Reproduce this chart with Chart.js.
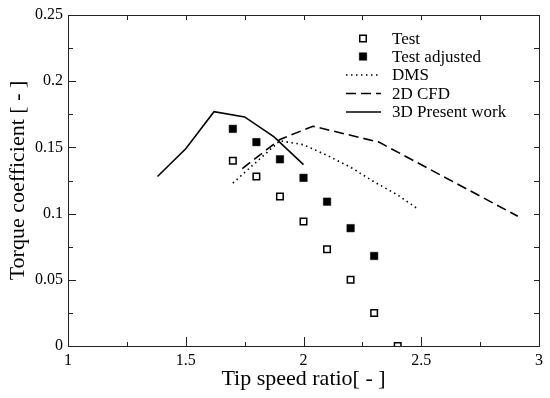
<!DOCTYPE html>
<html>
<head>
<meta charset="utf-8">
<script src="https://cdn.jsdelivr.net/npm/chart.js@4/dist/chart.umd.min.js"></script>
<style>
  html, body { margin: 0; padding: 0; background: #fff; }
  #wrap { width: 550px; height: 398px; }
</style>
</head>
<body>
<div id="wrap"><canvas id="torqueChart"></canvas></div>
<script>
/* global Chart */

// data
const testX = [1.7, 1.8, 1.9, 2.0, 2.1, 2.2, 2.3, 2.4];
const testY = [0.140, 0.128, 0.113, 0.094, 0.073, 0.050, 0.025, 0.000];

const adjustedX = [1.7, 1.8, 1.9, 2.0, 2.1, 2.2, 2.3];
const adjustedY = [0.164, 0.154, 0.141, 0.127, 0.109, 0.089, 0.068];

const dmsX = [1.7, 1.9, 2.0, 2.1, 2.2, 2.3, 2.4, 2.49];
const dmsY = [0.123, 0.155, 0.152, 0.144, 0.135, 0.124, 0.114, 0.103];

const cfdX = [1.74, 1.9, 2.04, 2.32, 2.91];
const cfdY = [0.134, 0.156, 0.166, 0.154, 0.098];

const presentX = [1.38, 1.5, 1.62, 1.75, 1.875, 2.0];
const presentY = [0.128, 0.149, 0.177, 0.173, 0.158, 0.137];

const seriesLabels = ['Test', 'Test adjusted', 'DMS', '2D CFD', '3D Present work'];
const xTitle = 'Tip speed ratio[ - ]';
const yTitle = 'Torque coefficient [ - ]';

function toPoints(xs, ys) {
  return xs.map((x, i) => ({ x, y: ys[i] }));
}

function isMultiple(v, step) {
  return Math.abs(v / step - Math.round(v / step)) < 1e-6;
}

const serif = 'Liberation Serif, Times New Roman, serif';

// box around the plot with ticks pointing inwards
const framePlugin = {
  id: 'frame',
  afterDraw(chart) {
    const { ctx, chartArea: a, scales } = chart;
    ctx.save();
    ctx.strokeStyle = '#222';
    ctx.lineWidth = 1;
    ctx.beginPath();
    scales.x.ticks.forEach((t) => {
      const px = Math.round(scales.x.getPixelForValue(t.value)) + 0.5;
      const len = isMultiple(t.value, 0.5) ? 9 : 4;
      ctx.moveTo(px, a.bottom);
      ctx.lineTo(px, a.bottom - len);
      ctx.moveTo(px, a.top);
      ctx.lineTo(px, a.top + 5);
    });
    scales.y.ticks.forEach((t) => {
      const py = Math.round(scales.y.getPixelForValue(t.value)) + 0.5;
      const len = isMultiple(t.value, 0.05) ? 8 : 5;
      ctx.moveTo(a.left, py);
      ctx.lineTo(a.left + len, py);
      ctx.moveTo(a.right, py);
      ctx.lineTo(a.right - 5, py);
    });
    ctx.stroke();
    ctx.strokeRect(Math.round(a.left) + 0.5, Math.round(a.top) + 0.5,
      Math.round(a.right - a.left), Math.round(a.bottom - a.top));
    ctx.restore();
  },
};

// legend in the upper right corner
const legendPlugin = {
  id: 'cornerLegend',
  afterDraw(chart) {
    const { ctx } = chart;
    const rowY = [38.5, 56.5, 75, 93.5, 112];
    ctx.save();
    ctx.font = `17px ${serif}`;
    ctx.textBaseline = 'middle';
    ctx.fillStyle = '#000';
    chart.data.datasets.forEach((ds, i) => {
      const y = rowY[i];
      if (ds.showLine === false) {
        const s = ds.pointStyleSide;
        ctx.lineWidth = ds.pointBorderWidth;
        ctx.strokeStyle = '#000';
        ctx.fillStyle = ds.pointBackgroundColor;
        ctx.beginPath();
        ctx.rect(363 - s / 2, y - s / 2, s, s);
        ctx.fill();
        ctx.stroke();
      } else {
        ctx.lineWidth = ds.borderWidth;
        ctx.strokeStyle = ds.borderColor;
        ctx.setLineDash(ds.borderDash || []);
        ctx.beginPath();
        ctx.moveTo(346, y);
        ctx.lineTo(381, y);
        ctx.stroke();
        ctx.setLineDash([]);
      }
      ctx.fillStyle = '#000';
      ctx.fillText(ds.label, 392, y + 1);
    });
    ctx.restore();
  },
};

const ctx = document.getElementById('torqueChart');
const torqueChart = new Chart(ctx, {
  type: 'scatter',
  data: {
    datasets: [
      {
        label: seriesLabels[0],
        data: toPoints(testX, testY),
        showLine: false,
        pointStyle: 'rect',
        pointRadius: 4.6,
        pointStyleSide: 6.5,
        pointBorderWidth: 1.5,
        pointBorderColor: '#000',
        pointBackgroundColor: '#fff',
        order: 0,
      },
      {
        label: seriesLabels[1],
        data: toPoints(adjustedX, adjustedY),
        showLine: false,
        pointStyle: 'rect',
        pointRadius: 5.3,
        pointStyleSide: 7.5,
        pointBorderWidth: 0.5,
        pointBorderColor: '#000',
        pointBackgroundColor: '#000',
        order: 1,
      },
      {
        label: seriesLabels[2],
        data: toPoints(dmsX, dmsY),
        showLine: true,
        borderColor: '#000',
        borderWidth: 1.6,
        borderDash: [1.5, 3.5],
        pointRadius: 0,
        order: 2,
      },
      {
        label: seriesLabels[3],
        data: toPoints(cfdX, cfdY),
        showLine: true,
        borderColor: '#000',
        borderWidth: 1.6,
        borderDash: [10, 5],
        pointRadius: 0,
        order: 3,
      },
      {
        label: seriesLabels[4],
        data: toPoints(presentX, presentY),
        showLine: true,
        borderColor: '#000',
        borderWidth: 1.6,
        pointRadius: 0,
        order: 4,
      },
    ],
  },
  options: {
    responsive: true,
    maintainAspectRatio: false,
    animation: false,
    events: [],
    layout: {
      padding: { left: 0, right: 11, top: 15, bottom: 0 },
    },
    plugins: {
      legend: { display: false },
      tooltip: { enabled: false },
    },
    elements: { line: { tension: 0 } },
    scales: {
      x: {
        type: 'linear',
        min: 1,
        max: 3,
        afterFit(scale) {
          scale.height = 52;
        },
        grid: { display: false, drawTicks: false },
        border: { display: false },
        ticks: {
          stepSize: 0.25,
          autoSkip: false,
          maxRotation: 0,
          padding: 5,
          color: '#000',
          font: { family: serif, size: 16 },
          callback: (v) => (isMultiple(v, 0.5) ? String(Math.round(v * 10) / 10) : ''),
        },
        title: {
          display: true,
          text: xTitle,
          color: '#000',
          font: { family: serif, size: 22 },
          padding: { top: 0, bottom: 6 },
        },
      },
      y: {
        min: 0,
        max: 0.25,
        afterFit(scale) {
          scale.width = 68;
        },
        grid: { display: false, drawTicks: false },
        border: { display: false },
        ticks: {
          stepSize: 0.025,
          autoSkip: false,
          padding: 5,
          color: '#000',
          font: { family: serif, size: 16 },
          callback: (v) => (isMultiple(v, 0.05) ? String(Math.round(v * 100) / 100) : ''),
        },
        title: {
          display: true,
          text: yTitle,
          color: '#000',
          font: { family: serif, size: 22 },
          padding: { top: 5, bottom: 0 },
        },
      },
    },
  },
  plugins: [framePlugin, legendPlugin],
});
</script>
</body>
</html>
